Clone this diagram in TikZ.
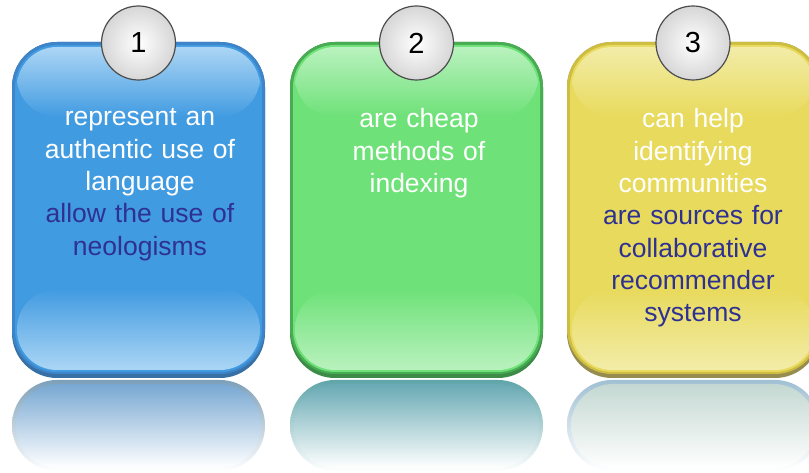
\documentclass[tikz,border=0pt]{standalone}
\usepackage{fontspec}
\setmainfont{Liberation Sans}
\usepackage{tikz}

%% box colours
\definecolor{bluebase}{RGB}{65,155,225}
\definecolor{bluelight}{RGB}{172,214,245}
\definecolor{blueedge}{RGB}{62,132,200}
\definecolor{bluedark}{RGB}{55,112,165}
\definecolor{bluerefl}{RGB}{120,168,210}
\definecolor{bluerefledge}{RGB}{125,160,185}
\definecolor{greenbase}{RGB}{110,225,120}
\definecolor{greenlight}{RGB}{185,242,190}
\definecolor{greenedge}{RGB}{72,172,82}
\definecolor{greendark}{RGB}{60,140,72}
\definecolor{greenrefl}{RGB}{105,170,180}
\definecolor{greenrefledge}{RGB}{95,165,170}
\definecolor{yellowbase}{RGB}{232,218,92}
\definecolor{yellowlight}{RGB}{242,236,168}
\definecolor{yellowedge}{RGB}{205,190,65}
\definecolor{yellowdark}{RGB}{150,140,80}
\definecolor{yellowrefl}{RGB}{196,216,210}
\definecolor{yellowrefledge}{RGB}{160,192,212}
\definecolor{navytext}{RGB}{46,49,146}

\tikzset{
  badge/.style={circle, minimum size=74pt, inner sep=0pt, draw=black!70,
    line width=1.2pt, inner color=white, outer color=black!16,
    font=\fontsize{29}{30}\selectfont},
  boxtext/.style={anchor=north, inner sep=0pt, text width=250pt, align=center,
    text=white, font=\fontsize{26.5}{32.3}\selectfont}
}

\begin{document}
\begin{tikzpicture}[x=1pt,y=1pt]

\path[use as bounding box, clip] (0,0) rectangle (809,473);

%% reflections
\shade[top color=bluerefledge, middle color=bluerefledge!15!white, bottom color=white, rounded corners=45pt] (12,2) rectangle (265,93);
\shade[top color=bluerefl, middle color=bluerefl!12!white, bottom color=white, rounded corners=42pt] (16,5) rectangle (261,89);
\shade[top color=greenrefledge, middle color=greenrefledge!15!white, bottom color=white, rounded corners=45pt] (290,2) rectangle (543,93);
\shade[top color=greenrefl, middle color=greenrefl!12!white, bottom color=white, rounded corners=42pt] (294,5) rectangle (539,89);
\shade[top color=yellowrefledge, middle color=yellowrefledge!15!white, bottom color=white, rounded corners=45pt] (567,2) rectangle (820,93);
\shade[top color=yellowrefl, middle color=yellowrefl!12!white, bottom color=white, rounded corners=42pt] (571,5) rectangle (816,89);

%% box 1
\fill[bluedark, rounded corners=45pt] (12,95) rectangle (265,431);
\fill[blueedge, rounded corners=45pt] (12,99) rectangle (265,431);
\fill[bluebase, rounded corners=42pt] (15,101) rectangle (262,428);
\shade[top color=bluelight, bottom color=bluebase, rounded corners=40pt] (17,356) rectangle (260,426);
\shade[top color=bluebase, bottom color=bluelight, rounded corners=40pt] (17,103) rectangle (260,184);

%% box 2
\fill[greendark, rounded corners=45pt] (290,95) rectangle (543,431);
\fill[greenedge, rounded corners=45pt] (290,99) rectangle (543,431);
\fill[greenbase, rounded corners=42pt] (293,101) rectangle (540,428);
\shade[top color=greenlight, bottom color=greenbase, rounded corners=40pt] (295,356) rectangle (538,426);
\shade[top color=greenbase, bottom color=greenlight, rounded corners=40pt] (295,103) rectangle (538,184);

%% box 3
\fill[yellowdark, rounded corners=45pt] (567,95) rectangle (820,431);
\fill[yellowedge, rounded corners=45pt] (567,99) rectangle (820,431);
\fill[yellowbase, rounded corners=42pt] (570,101) rectangle (817,428);
\shade[top color=yellowlight, bottom color=yellowbase, rounded corners=40pt] (572,356) rectangle (815,426);
\shade[top color=yellowbase, bottom color=yellowlight, rounded corners=40pt] (572,103) rectangle (815,184);

%% numbers
\node[badge] (n1) at (138.5,430) {1};
\node[badge] (n2) at (416.5,430) {2};
\node[badge] (n3) at (693,430) {3};

%% texts
\node[boxtext] (t1) at (140,364.5) {represent an\\ authentic use of\\ language\\
  \textcolor{navytext}{allow the use of}\\ \textcolor{navytext}{neologisms}};
\node[boxtext] (t2) at (419,364.5) {are cheap\\ methods of\\ indexing};
\node[boxtext] (t3) at (693,364.5) {can help\\ identifying\\ communities\\
  \textcolor{navytext}{are sources for}\\ \textcolor{navytext}{collaborative}\\
  \textcolor{navytext}{recommender}\\ \textcolor{navytext}{systems}};

\end{tikzpicture}
\end{document}
